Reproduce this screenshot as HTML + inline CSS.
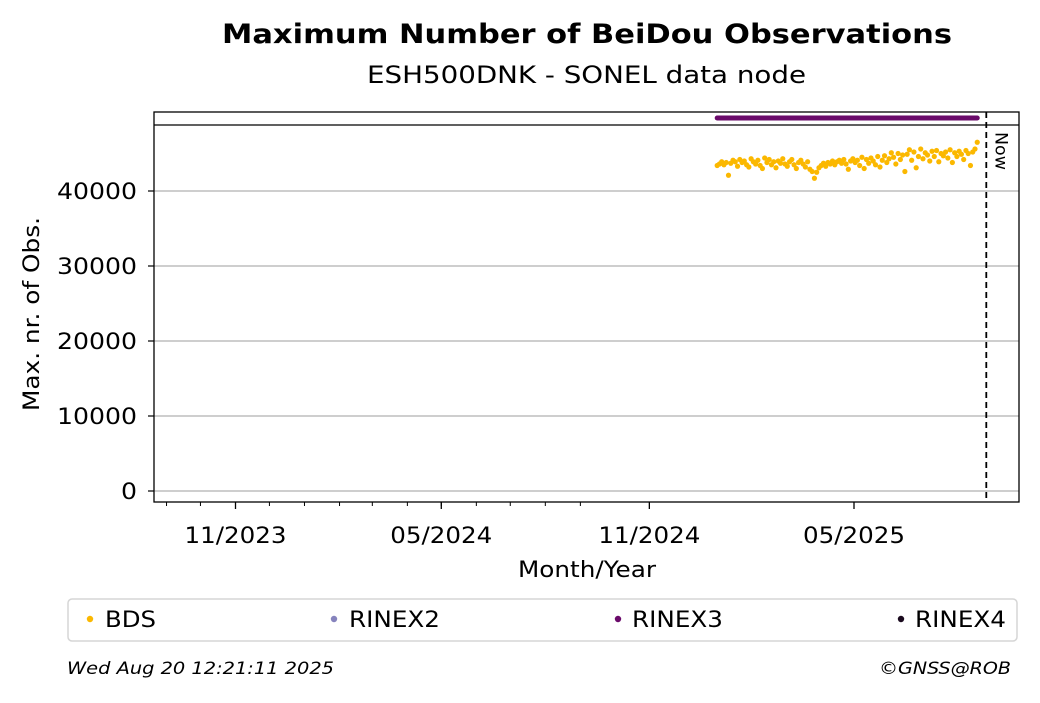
<!DOCTYPE html>
<html><head><meta charset="utf-8">
<style>
body{margin:0;background:#fff;font-family:"DejaVu Sans","Liberation Sans",sans-serif;}
svg text{font-family:"DejaVu Sans","Liberation Sans",sans-serif;}
</style></head>
<body>
<svg id="chart" width="1040" height="699" viewBox="0 0 1040 699" xmlns="http://www.w3.org/2000/svg">
<rect width="1040" height="699" fill="#fff"/>
<text x="222" y="43" font-size="27" font-weight="bold" textLength="730" lengthAdjust="spacingAndGlyphs">Maximum Number of BeiDou Observations</text>
<text x="367" y="83" font-size="24" textLength="439" lengthAdjust="spacingAndGlyphs">ESH500DNK - SONEL data node</text>
<g id="grid"></g>
<g id="marks"></g>
<line x1="154" y1="125" x2="1019" y2="125" stroke="#000" stroke-width="1.3"/>
<rect x="154" y="112" width="865" height="390" fill="none" stroke="#000" stroke-width="1.3"/>
<g id="axes"></g>
<text transform="translate(39,411) rotate(-90)" font-size="22" textLength="194" lengthAdjust="spacingAndGlyphs">Max. nr. of Obs.</text>
<text x="518" y="577" font-size="22" textLength="138" lengthAdjust="spacingAndGlyphs">Month/Year</text>
<g>
<rect x="68" y="599" width="949" height="42" rx="4" fill="#fff" stroke="#d5d5d5" stroke-width="1.5"/>
<g><circle cx="90" cy="619" r="3.2" fill="#fbb800"/><text x="105" y="627" font-size="22" textLength="51" lengthAdjust="spacingAndGlyphs">BDS</text></g>
<g><circle cx="334" cy="619" r="3.2" fill="#8683bd"/><text x="349" y="627" font-size="22" textLength="91" lengthAdjust="spacingAndGlyphs">RINEX2</text></g>
<g><circle cx="618" cy="619" r="3.2" fill="#6a0a6a"/><text x="632" y="627" font-size="22" textLength="91" lengthAdjust="spacingAndGlyphs">RINEX3</text></g>
<g><circle cx="901" cy="619" r="3.2" fill="#1a0a1e"/><text x="915" y="627" font-size="22" textLength="91" lengthAdjust="spacingAndGlyphs">RINEX4</text></g>
</g>
<text x="67" y="674" font-size="17" font-style="italic" textLength="267" lengthAdjust="spacingAndGlyphs">Wed Aug 20 12:21:11 2025</text>
<text x="879" y="674" font-size="17" font-style="italic" textLength="132" lengthAdjust="spacingAndGlyphs">©GNSS@ROB</text>
</svg>
<script>
const yTicks = [0, 10000, 20000, 30000, 40000];
const xTickLabels = ["11/2023", "05/2024", "11/2024", "05/2025"];
const xTickDates = ["2023-11-01", "2024-05-01", "2024-11-01", "2025-05-01"];
const bdsStart = "2024-12-31";
const bdsStepDays = 2;
const bdsValues = [43400,43600,43900,43500,43800,42100,43700,44100,43900,43300,
44200,43800,44000,43500,43200,44300,43900,43600,44100,43400,
43000,44400,43800,44200,43500,43900,43100,44000,43700,44300,
43600,43300,43900,44200,43500,43000,43800,44100,43600,43200,
43900,42900,42600,41700,42500,43100,43400,43700,43300,43800,
43600,44000,43500,43900,44100,43700,44200,43600,42900,44000,
44300,43800,44100,43400,44500,43000,44200,43700,44400,44000,
43500,44600,43200,44100,44700,43800,44300,45100,44500,43600,
45000,44200,44800,42600,44900,45500,44100,45200,43100,44600,
45600,44300,45100,44800,44000,45300,44600,45400,43900,45000,
44700,45200,44400,45500,43800,45100,44600,45300,44900,44200,
45400,45000,43400,45200,45600,46500];
const rinex3Start = "2024-12-31";
const rinex3End = "2025-08-18";
const rinex3Value = 1;
const nowDate = "2025-08-26";

const DAY = 86400000;
const d0 = Date.parse("2023-11-01"), d1 = Date.parse("2025-05-01");
function xScale(dateMs){ return 235.5 + (dateMs - d0) / (d1 - d0) * (854 - 235.5); }
function yScale(v){ return 491 - v * 0.0075; }
const NS = "http://www.w3.org/2000/svg";
function mk(tag, attrs, parent){ const e = document.createElementNS(NS, tag); for (const k in attrs) e.setAttribute(k, attrs[k]); parent.appendChild(e); return e; }
const grid = document.getElementById('grid'), axes = document.getElementById('axes'), marks = document.getElementById('marks');

yTicks.forEach(v => {
  const y = yScale(v);
  const g = mk('line', {x1:154, x2:1019, y1:y, y2:y, stroke:'#b0b0b0', 'stroke-width':1.3}, grid);
  
  
  const t = mk('line', {x1:148, x2:154, y1:y, y2:y, stroke:'#000', 'stroke-width':1.2}, axes);
  
  
  const s = String(v);
  const l = mk('text', {x:137 - 16 * s.length, y:y + 8, 'font-size':22, textLength:16 * s.length, lengthAdjust:'spacingAndGlyphs'}, axes);
  l.textContent = s;
  
  
});

for (let m = 8; m <= 20; m++) {
  const dt = Date.UTC(2023 + Math.floor(m / 12), m % 12, 1);
  const x = xScale(dt);
  const t = mk('line', {x1:x, x2:x, y1:502, y2:506, stroke:'#000', 'stroke-width':1}, axes);
  
  
}
xTickDates.forEach((d, i) => {
  const x = xScale(Date.parse(d));
  const t = mk('line', {x1:x, x2:x, y1:502, y2:509, stroke:'#000', 'stroke-width':1.3}, axes);
  
  
  const l = mk('text', {x:x - 51, y:543, 'font-size':22, textLength:102, lengthAdjust:'spacingAndGlyphs'}, axes);
  l.textContent = xTickLabels[i];
  
  
});

const r3 = mk('line', {x1:xScale(Date.parse(rinex3Start)), x2:xScale(Date.parse(rinex3End)), y1:118, y2:118, stroke:'#6a0a6a', 'stroke-width':5, 'stroke-linecap':'round'}, marks);



const s0 = Date.parse(bdsStart);
bdsValues.forEach((v, i) => {
  const c = mk('circle', {cx:xScale(s0 + i * bdsStepDays * DAY), cy:yScale(v), r:2.6, fill:'#fbb800'}, marks);
  
  
});

const nx = xScale(Date.parse(nowDate));
const nl = mk('line', {x1:nx, x2:nx, y1:112, y2:502, stroke:'#000', 'stroke-width':1.8, 'stroke-dasharray':'6,4'}, marks);


const nt = mk('text', {transform:'translate(' + (nx + 9) + ',132) rotate(90)', 'font-size':17, textLength:38, lengthAdjust:'spacingAndGlyphs'}, marks);
nt.textContent = 'Now';


</script>
</body></html>
